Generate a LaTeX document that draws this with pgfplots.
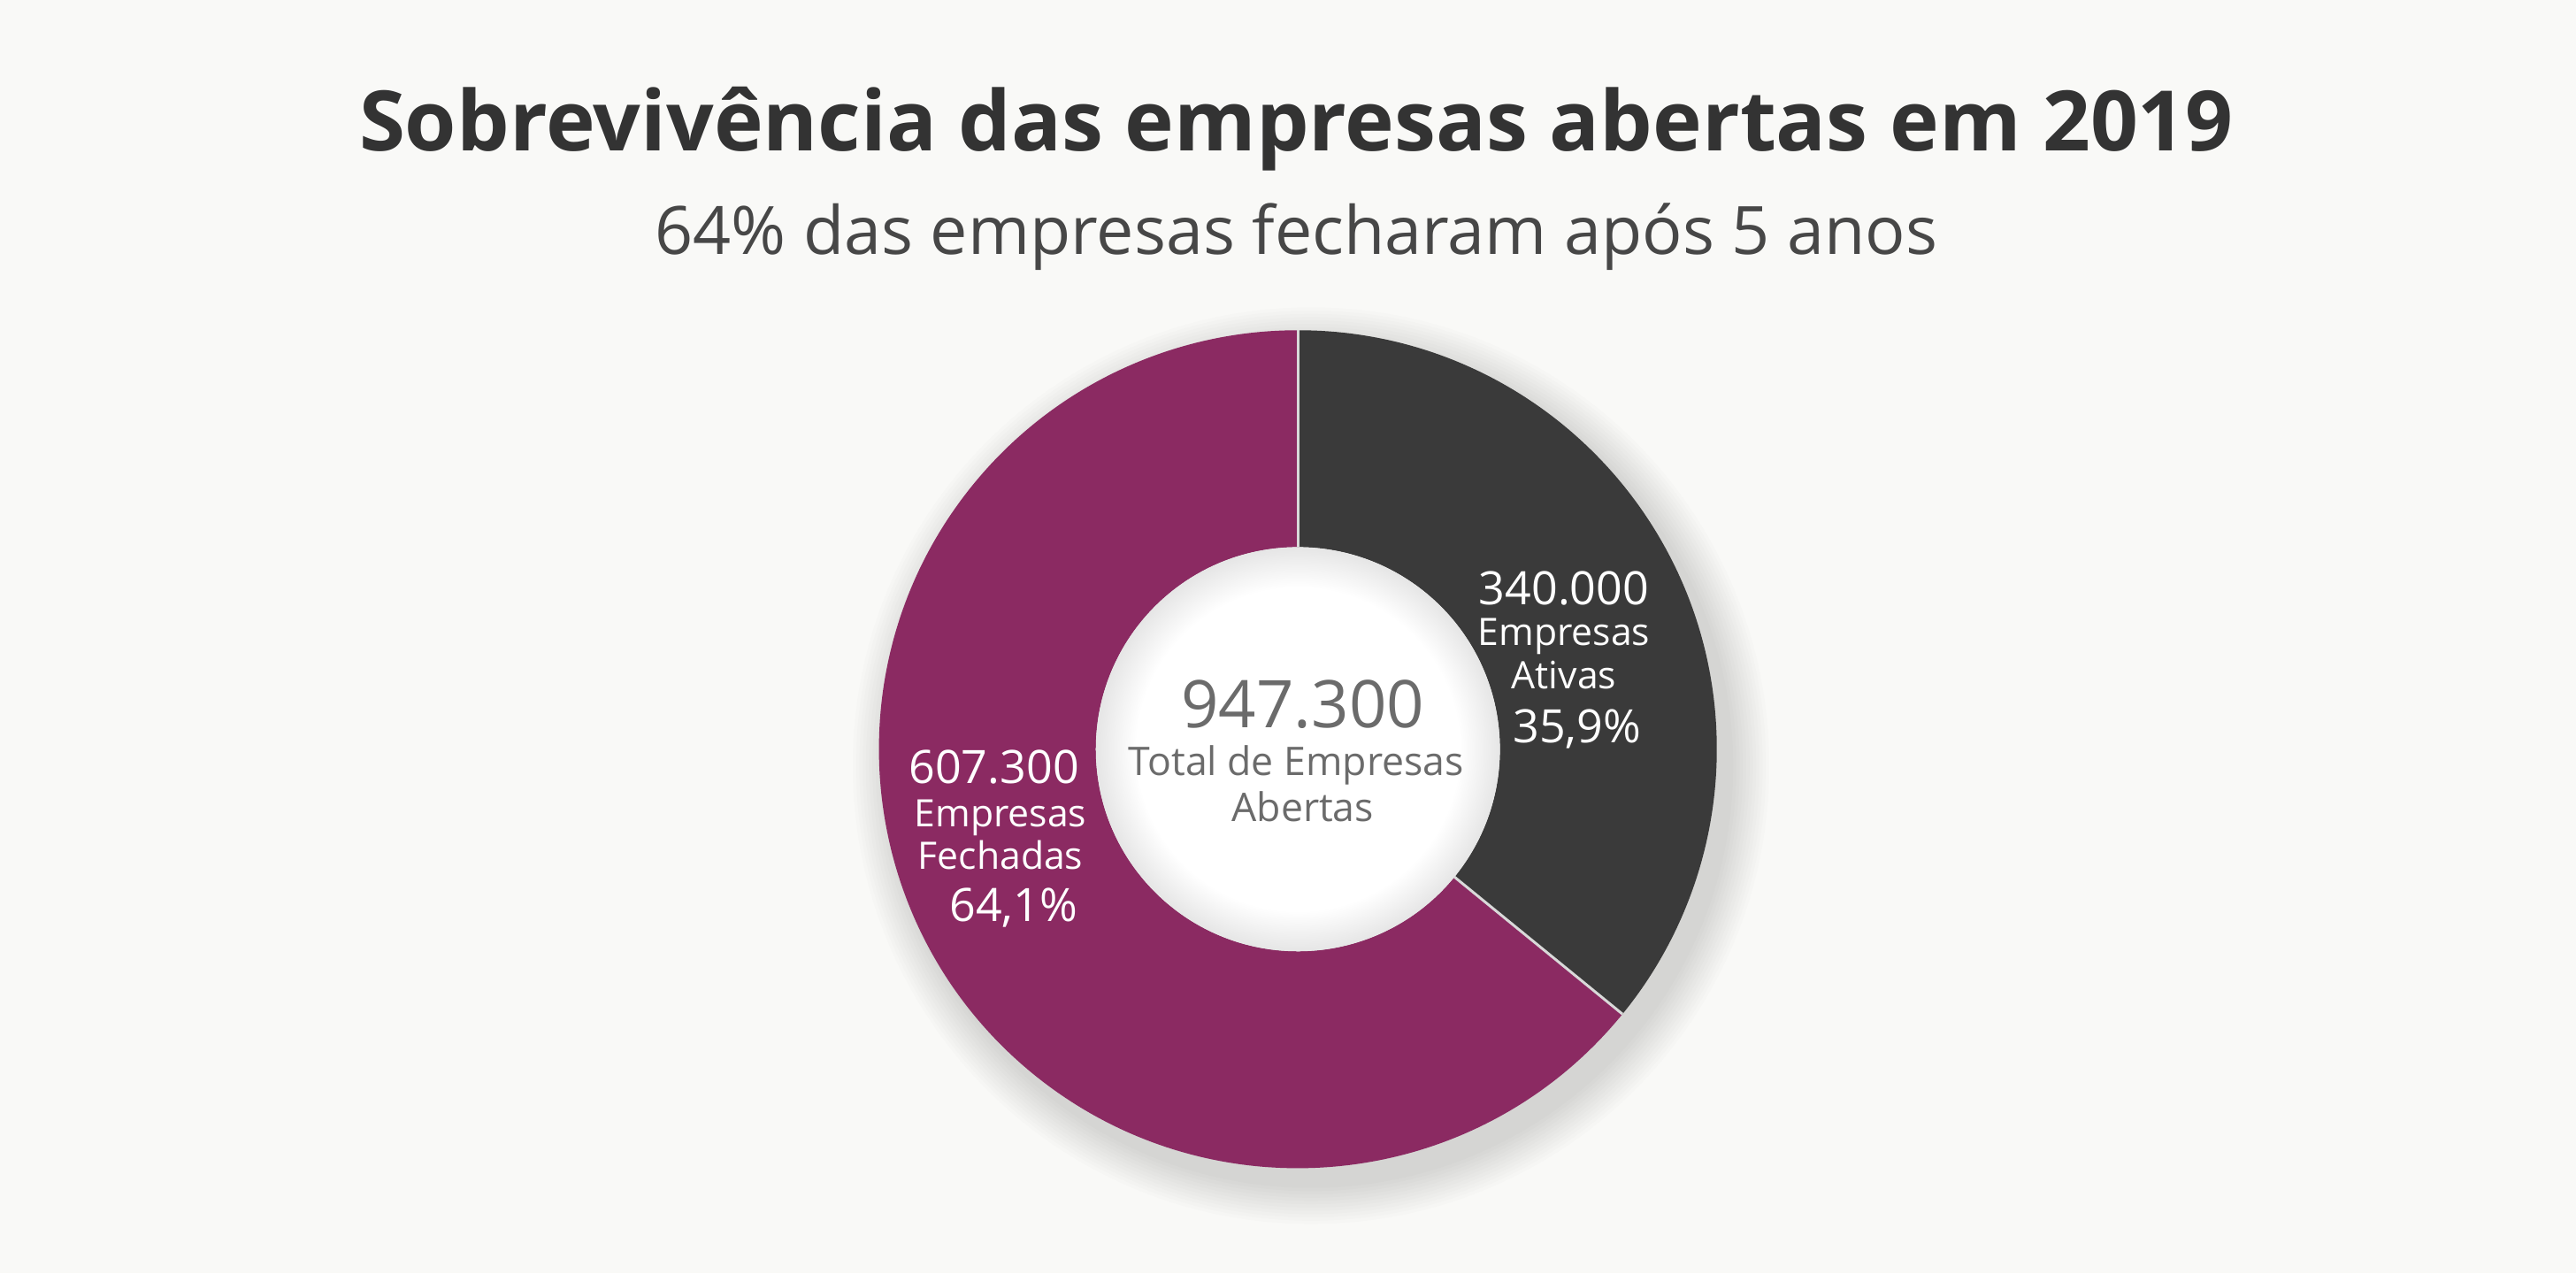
\documentclass[border=0pt]{standalone}
\usepackage{pgfplots}
\pgfplotsset{compat=1.18}
\usepackage{pgfplotstable}
\usepackage{fontspec}
\setmainfont{Open Sans}
\IfFontExistsTF{Open Sans SemiBold}
  {\newfontfamily\titulofont{Open Sans SemiBold}\def\tsize{26.8}}
  {\newfontfamily\titulofont{Open Sans}[UprightFont=*-Bold]\def\tsize{25.4}}

\definecolor{fundo}{HTML}{F9F9F7}
\definecolor{fechadas}{HTML}{8B2A62}
\definecolor{ativas}{HTML}{3A3A3A}
\definecolor{titulo}{HTML}{333333}
\definecolor{centro}{HTML}{6B6B6B}

\pgfdeclareradialshading{buraco}{\pgfpoint{0bp}{0bp}}{%
  color(0bp)=(white); color(20bp)=(white); color(25bp)=(black!10); color(50bp)=(black!10)}

% empresas abertas em 2019
\pgfplotstableread{
grupo    valor
Ativas   340000
Fechadas 607300
}\dados

\begin{document}
\begin{tikzpicture}
\pgfplotstablegetelem{0}{valor}\of\dados \edef\va{\pgfplotsretval}
\pgfplotstablegetelem{1}{valor}\of\dados \edef\vb{\pgfplotsretval}
\edef\aA{\fpeval{90-360*\va/(\va+\vb)}}
\def\Ro{127.5pt}\def\Ri{61.5pt}
\begin{axis}[x=0.5pt, y=0.5pt, xmin=0, xmax=1568, ymin=0, ymax=775,
  hide axis, clip=false]
  \fill[fundo] (axis cs:0,0) rectangle (axis cs:1568,775);
  \path (axis cs:790,319) coordinate (C);
  % sombra
  \pgfplotsinvokeforeach{1,...,12}{
    \fill[black, opacity=0.012] ([shift={(4pt,-5pt)}]C) circle[radius=127.5pt+#1*1pt];
  }
  % fatias
  \fill[ativas] ([shift={(90:\Ro)}]C) arc[start angle=90, end angle=\aA, radius=\Ro]
     -- ([shift={(\aA:\Ri)}]C) arc[start angle=\aA, end angle=90, radius=\Ri] -- cycle;
  \fill[fechadas] ([shift={(\aA:\Ro)}]C) arc[start angle=\aA, end angle=-270, radius=\Ro]
     -- ([shift={(-270:\Ri)}]C) arc[start angle=-270, end angle=\aA, radius=\Ri] -- cycle;
  \shade[shading=buraco] (C) circle[radius=\Ri];
  \draw[white!85!black, line width=0.8pt] ([shift={(90:\Ri)}]C) -- ([shift={(90:\Ro)}]C);
  \draw[white!85!black, line width=0.8pt] ([shift={(\aA:\Ri)}]C) -- ([shift={(\aA:\Ro)}]C);
  % textos
  \node[anchor=base, text=titulo, font=\fontsize{\tsize}{34}\titulofont]
    at (axis cs:789,683) {Sobrevivência das empresas abertas em 2019};
  \node[anchor=base, text=titulo!90!white, font=\fontsize{20.3}{25}\selectfont]
    at (axis cs:789,620) {64\% das empresas fecharam após 5 anos};
  \node[anchor=base, text=centro, font=\fontsize{20}{24}\selectfont] at (axis cs:793,332) {947.300};
  \node[anchor=base, text=centro, font=\fontsize{12}{14}\selectfont] at (axis cs:789,303) {Total de Empresas};
  \node[anchor=base, text=centro, font=\fontsize{12}{14}\selectfont] at (axis cs:793,275) {Abertas};
  \node[anchor=base, text=white, font=\fontsize{14}{17}\selectfont] at (axis cs:952,407) {340.000};
  \node[anchor=base, text=white, font=\fontsize{11.5}{14}\selectfont] at (axis cs:952,382) {Empresas};
  \node[anchor=base, text=white, font=\fontsize{11.5}{14}\selectfont] at (axis cs:952,356) {Ativas};
  \node[anchor=base, text=white, font=\fontsize{14}{17}\selectfont] at (axis cs:960,323) {35,9\%};
  \node[anchor=base, text=white, font=\fontsize{14}{17}\selectfont] at (axis cs:605,298) {607.300};
  \node[anchor=base, text=white, font=\fontsize{11.5}{14}\selectfont] at (axis cs:609,272) {Empresas};
  \node[anchor=base, text=white, font=\fontsize{11.5}{14}\selectfont] at (axis cs:609,246) {Fechadas};
  \node[anchor=base, text=white, font=\fontsize{14}{17}\selectfont] at (axis cs:617,214) {64,1\%};
\end{axis}
\end{tikzpicture}
\end{document}
